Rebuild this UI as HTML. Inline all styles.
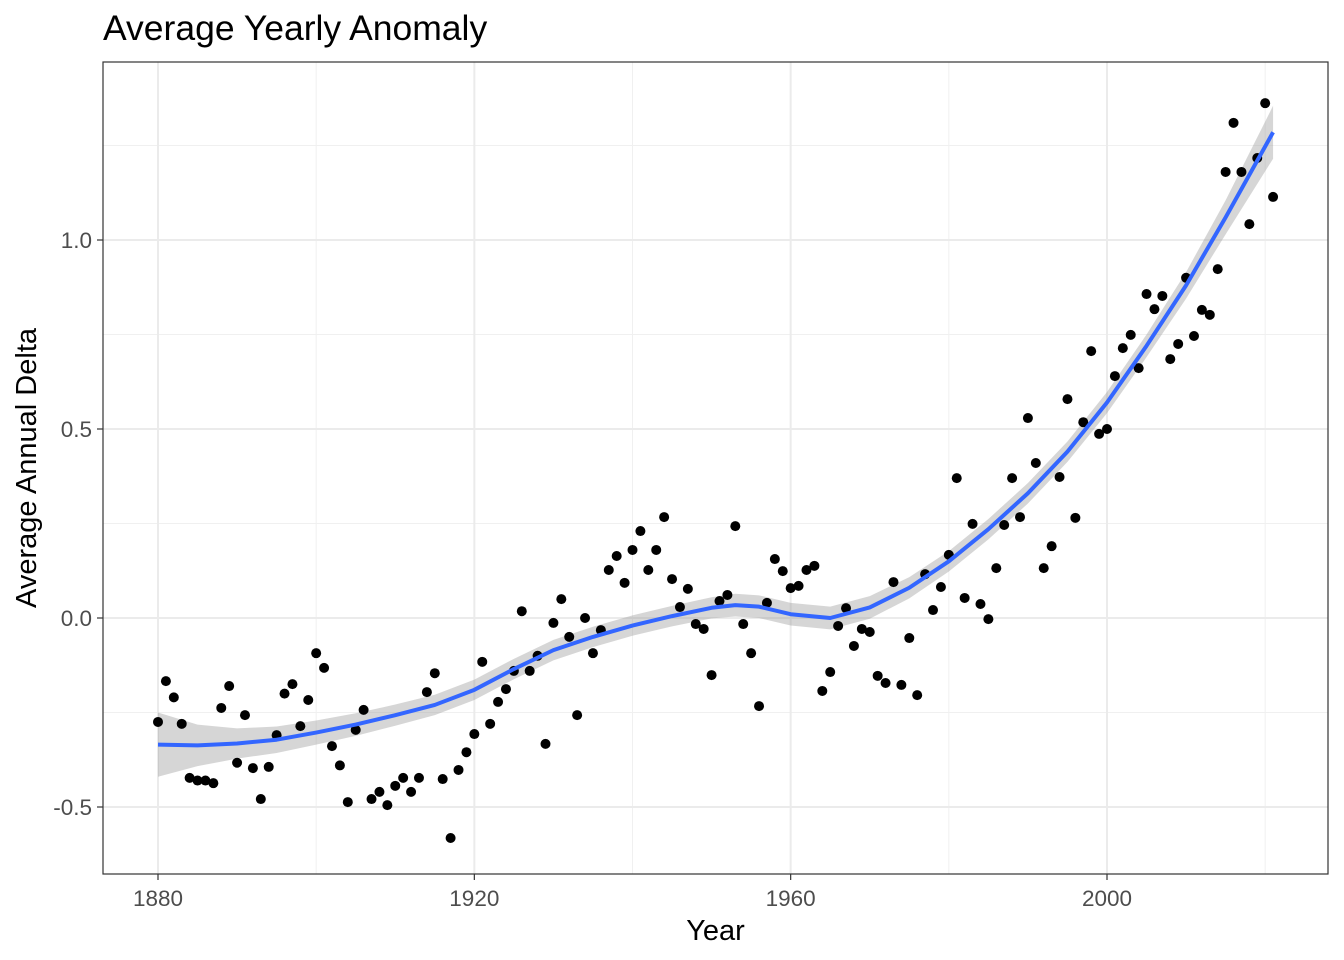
<!DOCTYPE html>
<html><head><meta charset="utf-8">
<style>
html,body{margin:0;padding:0;background:#fff;}
svg{display:block;font-family:"Liberation Sans",Arial,sans-serif;}
</style></head>
<body>
<svg id="chart" width="1344" height="960" viewBox="0 0 1344 960"></svg>
<script>
const years = [];
for (let y = 1880; y <= 2021; y++) years.push(y);
const anomalies = [-0.275,-0.167,-0.21,-0.28,-0.423,-0.43,-0.43,-0.437,-0.238,-0.18,
-0.383,-0.257,-0.397,-0.479,-0.394,-0.31,-0.2,-0.175,-0.286,-0.217,
-0.093,-0.132,-0.339,-0.39,-0.487,-0.296,-0.243,-0.479,-0.46,-0.495,
-0.444,-0.423,-0.46,-0.423,-0.196,-0.146,-0.426,-0.582,-0.402,-0.355,
-0.307,-0.116,-0.28,-0.222,-0.188,-0.14,0.018,-0.14,-0.1,-0.333,
-0.013,0.05,-0.05,-0.257,0,-0.093,-0.032,0.127,0.164,0.093,
0.18,0.23,0.127,0.18,0.267,0.103,0.029,0.077,-0.016,-0.029,
-0.151,0.045,0.061,0.243,-0.016,-0.093,-0.233,0.04,0.156,0.124,
0.079,0.085,0.127,0.138,-0.193,-0.143,-0.021,0.026,-0.074,-0.029,
-0.037,-0.153,-0.172,0.095,-0.177,-0.053,-0.204,0.116,0.021,0.082,
0.167,0.37,0.053,0.249,0.037,-0.003,0.132,0.246,0.37,0.267,
0.529,0.41,0.132,0.19,0.373,0.579,0.265,0.518,0.706,0.487,
0.5,0.64,0.714,0.749,0.661,0.857,0.817,0.852,0.685,0.725,
0.9,0.746,0.815,0.802,0.923,1.18,1.31,1.18,1.042,1.217,
1.362,1.114];
const smoothYears = [1880,1885,1890,1895,1900,1905,1910,1915,1920,1925,1930,1935,1940,1945,1950,1953,1956,1960,1965,1970,1975,1980,1985,1990,1995,2000,2005,2010,2015,2021];
const smoothFit = [-0.335,-0.337,-0.332,-0.322,-0.303,-0.282,-0.257,-0.23,-0.19,-0.135,-0.085,-0.05,-0.02,0.005,0.027,0.034,0.03,0.01,0.0,0.028,0.08,0.15,0.235,0.33,0.44,0.57,0.72,0.88,1.06,1.285];
const smoothSe = [0.085,0.055,0.04,0.035,0.032,0.03,0.028,0.027,0.027,0.027,0.027,0.027,0.027,0.027,0.028,0.03,0.03,0.03,0.03,0.03,0.028,0.027,0.027,0.027,0.027,0.028,0.03,0.035,0.045,0.07];
const xMajor = [1880,1920,1960,2000];
const xMinor = [1900,1940,1980,2020];
const yMajor = [-0.5,0,0.5,1.0];
const yLabels = ["-0.5","0.0","0.5","1.0"];
const yMinor = [-0.25,0.25,0.75,1.25];

const L=103,T=62,R=1328,B=874;
const xs = y => 158 + (y-1880)*(1107-158)/120;
const ys = v => 618 - v*378;
const svg = document.getElementById('chart');
const NS='http://www.w3.org/2000/svg';
function mk(tag, attrs, parent){const e=document.createElementNS(NS,tag);for(const k in attrs)e.setAttribute(k,attrs[k]);(parent||svg).appendChild(e);return e;}

const gridG = mk('g',{});


mk('rect',{x:L,y:T,width:R-L,height:B-T,fill:'#fff'},gridG);
xMinor.forEach(v=>mk('line',{x1:xs(v),x2:xs(v),y1:T,y2:B,stroke:'#f0f0f0','stroke-width':1},gridG));
yMinor.forEach(v=>mk('line',{x1:L,x2:R,y1:ys(v),y2:ys(v),stroke:'#f0f0f0','stroke-width':1},gridG));
xMajor.forEach(v=>mk('line',{x1:xs(v),x2:xs(v),y1:T,y2:B,stroke:'#ebebeb','stroke-width':2},gridG));
yMajor.forEach(v=>mk('line',{x1:L,x2:R,y1:ys(v),y2:ys(v),stroke:'#ebebeb','stroke-width':2},gridG));

let up=smoothYears.map((y,i)=>xs(y)+','+ys(smoothFit[i]+smoothSe[i]));
let lo=smoothYears.map((y,i)=>xs(y)+','+ys(smoothFit[i]-smoothSe[i])).reverse();
const rib = mk('polygon',{points:up.concat(lo).join(' '),fill:'#999',opacity:0.4});



const ptsG = mk('g',{});


years.forEach((y,i)=>{
  const c=mk('circle',{cx:xs(y),cy:ys(anomalies[i]),r:5,fill:'#000'},ptsG);
  
  
});

const line = mk('path',{d:'M'+smoothYears.map((y,i)=>xs(y)+','+ys(smoothFit[i])).join(' L'),fill:'none',stroke:'#3366FF','stroke-width':4,'stroke-linejoin':'round'});



const border = mk('rect',{x:L,y:T,width:R-L,height:B-T,fill:'none',stroke:'#333','stroke-width':1.2});



const axG = mk('g',{});


xMajor.forEach(v=>{
  mk('line',{x1:xs(v),x2:xs(v),y1:B,y2:B+6,stroke:'#333','stroke-width':1.2},axG);
  const t=mk('text',{x:xs(v),y:906,'text-anchor':'middle','font-size':22.5,fill:'#4d4d4d'},axG);
  t.textContent=v;
  
  
});
yMajor.forEach((v,i)=>{
  mk('line',{x1:L-6,x2:L,y1:ys(v),y2:ys(v),stroke:'#333','stroke-width':1.2},axG);
  const t=mk('text',{x:L-11,y:ys(v)+8,'text-anchor':'end','font-size':22.5,fill:'#4d4d4d'},axG);
  t.textContent=yLabels[i];
  
  
});
const xt=mk('text',{x:(L+R)/2,y:940,'text-anchor':'middle','font-size':29,fill:'#000'});
xt.textContent='Year';


const yt=mk('text',{x:0,y:0,'text-anchor':'middle','font-size':29,fill:'#000',transform:'translate(36,'+((T+B)/2)+') rotate(-90)'});
yt.textContent='Average Annual Delta';


const tt=mk('text',{x:103,y:40,'font-size':35.5,fill:'#000'});
tt.textContent='Average Yearly Anomaly';


</script>
</body></html>
